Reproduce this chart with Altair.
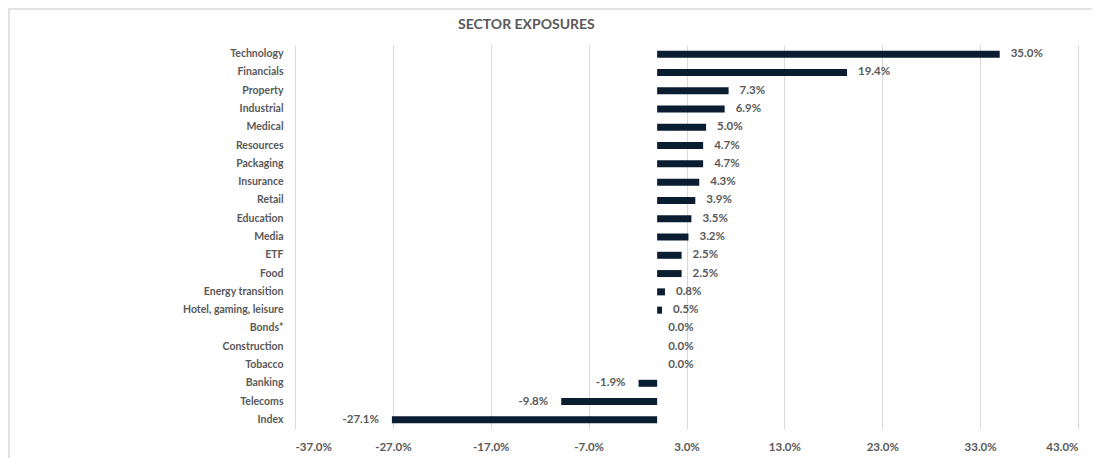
import altair as alt
import pandas as pd

sectors = ["Technology", "Financials", "Property", "Industrial", "Medical", "Resources",
           "Packaging", "Insurance", "Retail", "Education", "Media", "ETF", "Food",
           "Energy transition", "Hotel, gaming, leisure", "Bonds*", "Construction",
           "Tobacco", "Banking", "Telecoms", "Index"]
exposure = [35.0, 19.4, 7.3, 6.9, 5.0, 4.7, 4.7, 4.3, 3.9, 3.5, 3.2, 2.5, 2.5,
            0.8, 0.5, 0.0, 0.0, 0.0, -1.9, -9.8, -27.1]
tick_values = [-37, -27, -17, -7, 3, 13, 23, 33, 43]
title_text = "SECTOR EXPOSURES"

df = pd.DataFrame({"sector": sectors, "value": exposure})
df["label"] = df["value"].map(lambda v: f"{v:.1f}%")

FONT = "Lato"
GREY = "#595959"
NAVY = "#0B1D30"

x_enc = alt.X("value:Q",
              scale=alt.Scale(domain=[-37, 43], nice=False, zero=False),
              axis=alt.Axis(values=tick_values,
                            labelExpr="(datum.value < 0 ? '-' : '') + format(abs(datum.value), '.1f') + '%'",
                            grid=True, gridColor="#D9D9D9", gridWidth=1, domain=False,
                            ticks=False, labelPadding=12, labelFontSize=11.5,
                            labelFont=FONT, labelFontWeight="bold", labelColor=GREY,
                            title=None))
y_enc = alt.Y("sector:N", sort=sectors,
              scale=alt.Scale(paddingInner=0, paddingOuter=0),
              axis=alt.Axis(domain=False, ticks=False, grid=False, labelPadding=12,
                            labelFontSize=10.5, labelFont=FONT, labelFontWeight="bold",
                            labelColor=GREY, title=None))

base = alt.Chart(df)

bars = base.mark_bar(color=NAVY, size=7).encode(x=x_enc, x2=alt.datum(0), y=y_enc)

pos_labels = base.transform_filter("datum.value >= 0").mark_text(
    align="left", dx=11, font=FONT, fontWeight="bold", fontSize=11.5, color=GREY
).encode(x="value:Q", y=alt.Y("sector:N", sort=sectors), text="label:N")

neg_labels = base.transform_filter("datum.value < 0").mark_text(
    align="right", dx=-13, font=FONT, fontWeight="bold", fontSize=11.5, color=GREY
).encode(x="value:Q", y=alt.Y("sector:N", sort=sectors), text="label:N")

deco = alt.Chart(pd.DataFrame({"title": [title_text]}))

border = deco.mark_rect(
    fill=None, stroke="#D9D9D9", strokeWidth=1.5
).encode(x=alt.value(-286), x2=alt.value(820), y=alt.value(-36), y2=alt.value(480))

title = deco.mark_text(
    align="left", baseline="middle", font=FONT, fontWeight="bold", fontSize=14, color=GREY
).encode(x=alt.value(163), y=alt.value(-20), text="title:N")

chart = alt.layer(border, bars, pos_labels, neg_labels, title).properties(
    width=783, height=384,
    padding={"left": 287, "top": 37, "right": 14, "bottom": 29},
    autosize=alt.AutoSizeParams(type="none"),
).configure_view(stroke=None)

chart.save("out.html", embed_options={"renderer": "svg", "actions": False})
